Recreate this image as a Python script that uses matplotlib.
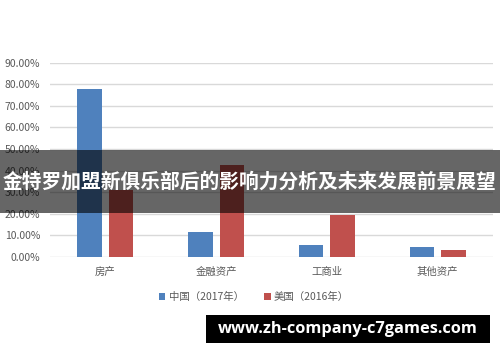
import numpy as np
import matplotlib.pyplot as plt
from matplotlib.patches import Rectangle

plt.rcParams['font.family'] = ['Noto Sans CJK SC', 'DejaVu Sans']

categories = ['房产', '金融资产', '工商业', '其他资产']
china_2017 = [0.776, 0.117, 0.055, 0.046]
usa_2016 = [0.310, 0.426, 0.193, 0.032]
series_names = ['中国（2017年）', '美国（2016年）']
yticks = [0.0, 0.1, 0.2, 0.3, 0.4, 0.5, 0.6, 0.7, 0.8, 0.9]

banner_text = '金特罗加盟新俱乐部后的影响力分析及未来发展前景展望'
site_text = 'www.zh-company-c7games.com'

blue = '#4F81BD'
red = '#C0504D'
gray_text = '#595959'

fig = plt.figure(figsize=(5, 3.62), dpi=100)
ax = fig.add_axes([0.1, 0.29, 0.886, 0.537])

x = np.arange(len(categories))
w = 0.22
ax.bar(x - 0.142, china_2017, w, color=blue, label=series_names[0], zorder=3)
ax.bar(x + 0.142, usa_2016, w, color=red, label=series_names[1], zorder=3)

ax.set_xlim(-0.5, len(categories) - 0.5)
ax.set_ylim(0, 0.9)
ax.set_yticks(yticks)
ax.set_yticklabels(['%.2f%%' % (v * 100) for v in yticks])
ax.set_xticks(x)
ax.set_xticklabels(categories)
ax.tick_params(length=0, labelsize=7.5, colors=gray_text)
ax.tick_params(axis='y', pad=7)
ax.tick_params(axis='x', pad=7)
ax.grid(axis='y', color='#D9D9D9', linewidth=1, zorder=0)
for s in ax.spines.values():
    s.set_visible(False)

ax.legend(loc='center', bbox_to_anchor=(0.508, 0.18), bbox_transform=fig.transFigure,
          ncol=2, frameon=False, fontsize=7.5, handlelength=0.6, handleheight=0.6,
          columnspacing=2.0, handletextpad=0.3, labelcolor=gray_text)

# overlay banner
fig.patches.append(Rectangle((0, 1 - 213 / 362), 1, 63 / 362, transform=fig.transFigure,
                             facecolor='black', alpha=0.6, zorder=10))
fig.text(0.5, 1 - 182 / 362, banner_text, ha='center', va='center', color='white',
         fontsize=14.2, fontweight='bold', zorder=11)

# footer box
fig.patches.append(Rectangle((206 / 500, 1 - 343 / 362), 284 / 500, 28 / 362,
                             transform=fig.transFigure, facecolor='black', zorder=10))
fig.text(348 / 500, 1 - 329 / 362, site_text, ha='center', va='center', color='white',
         fontsize=11.8, fontweight='bold', family='Open Sans', zorder=11)

fig.savefig('out.png', dpi=100)
